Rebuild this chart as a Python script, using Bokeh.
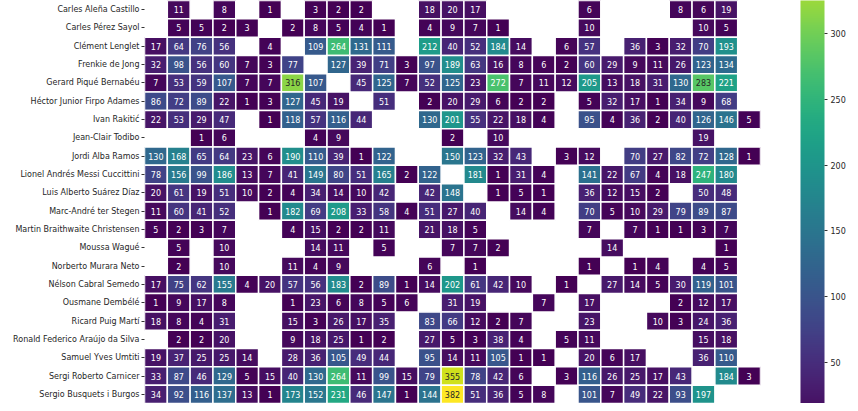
import math
from bokeh.plotting import figure
from bokeh.models import (ColumnDataSource, LinearColorMapper, ColorBar, FactorRange,
                          Range1d, FixedTicker)
from bokeh.palettes import Viridis256
from bokeh.embed import file_html
from bokeh.resources import INLINE
from bokeh.core.properties import value

players = [
    "Carles Aleña Castillo", "Carles Pérez Sayol", "Clément Lenglet", "Frenkie de Jong",
    "Gerard Piqué Bernabéu", "Héctor Junior Firpo Adames", "Ivan Rakitić", "Jean-Clair Todibo",
    "Jordi Alba Ramos", "Lionel Andrés Messi Cuccittini", "Luis Alberto Suárez Díaz",
    "Marc-André ter Stegen", "Martin Braithwaite Christensen", "Moussa Wagué",
    "Norberto Murara Neto", "Nélson Cabral Semedo", "Ousmane Dembélé", "Ricard Puig Martí",
    "Ronald Federico Araújo da Silva", "Samuel Yves Umtiti", "Sergi Roberto Carnicer",
    "Sergio Busquets i Burgos",
]

N = None
# one row per player, one entry per match (27 matches visible)
aleña     = [N,11,N,8,N,1,N,3,2,2,N,N,18,20,17,N,N,N,N,6,N,N,N,8,6,19,N]
perez     = [N,5,5,2,3,N,2,8,5,4,1,N,4,9,7,1,N,N,N,10,N,N,N,N,10,5,N]
lenglet   = [17,64,76,56,N,4,N,109,264,131,111,N,212,40,52,184,14,N,6,57,N,36,3,32,70,193,N]
dejong    = [32,98,56,60,7,3,77,N,127,39,71,3,97,189,63,16,8,6,2,60,29,9,11,26,123,134,N]
pique     = [7,53,59,107,7,7,316,107,N,45,125,7,52,125,23,272,7,11,12,205,13,18,31,130,283,221,N]
firpo     = [86,72,89,22,1,3,127,45,19,N,51,N,2,20,29,6,2,2,N,5,32,17,1,34,9,68,N]
rakitic   = [22,53,29,47,N,1,118,57,116,44,N,N,130,201,55,22,18,4,N,95,4,36,2,40,126,146,5]
todibo    = [N,N,1,6,N,N,N,4,9,N,N,N,N,2,N,10,N,N,N,N,N,N,N,N,19,N,N]
alba      = [130,168,65,64,23,6,190,110,39,1,122,N,N,150,123,32,43,N,3,12,N,70,27,82,72,128,1]
messi     = [78,156,99,186,13,7,41,149,80,51,165,2,122,N,181,1,31,4,N,141,22,67,4,18,247,180,N]
suarez    = [20,61,19,51,10,2,4,34,14,10,42,N,42,148,N,1,5,1,N,36,12,15,2,N,50,48,N]
terstegen = [11,60,41,52,N,1,182,69,208,33,58,4,51,27,40,N,14,4,N,70,5,10,29,79,89,87,N]
braith    = [5,2,3,7,N,N,4,15,2,2,11,N,21,18,5,N,N,N,N,7,N,7,1,1,3,7,N]
wague     = [N,5,N,10,N,N,N,14,11,N,5,N,N,7,7,2,N,N,N,N,14,N,N,N,N,1,N]
neto      = [N,2,N,10,N,N,11,4,9,N,N,N,6,N,1,N,N,N,N,1,N,1,4,N,4,5,N]
semedo    = [17,75,62,155,4,20,57,56,183,2,89,1,14,202,61,42,10,N,1,N,27,14,5,30,119,101,N]
dembele   = [1,9,17,8,N,N,1,23,6,8,5,6,N,31,19,N,N,7,N,17,N,N,N,2,12,17,N]
puig      = [18,8,4,31,N,N,15,3,26,17,35,N,83,66,12,2,7,N,N,23,N,N,10,3,24,36,N]
araujo    = [N,2,2,20,N,N,9,18,25,1,2,N,27,5,3,38,4,N,5,11,N,N,N,N,15,18,N]
umtiti    = [19,37,25,25,14,N,28,36,105,49,44,N,95,14,11,105,1,1,N,20,6,17,N,N,36,110,N]
roberto   = [33,87,46,129,5,15,40,130,264,11,99,15,79,355,78,42,6,N,3,116,26,25,17,43,N,184,3]
busquets  = [34,92,116,137,13,1,173,152,231,46,147,1,144,382,51,36,5,8,N,101,7,49,22,93,197,N,N]

rows = [aleña, perez, lenglet, dejong, pique, firpo, rakitic, todibo, alba, messi, suarez,
        terstegen, braith, wague, neto, semedo, dembele, puig, araujo, umtiti, roberto, busquets]

colorbar_ticks = [50, 100, 150, 200, 250, 300]

# ---------------------------------------------------------------------------
all_vals = [v for r in rows for v in r if v is not None]
vmin, vmax = min(all_vals), max(all_vals)


def lum(hexcol):
    rgb = [int(hexcol[i:i + 2], 16) / 255 for i in (1, 3, 5)]
    lin = [c / 12.92 if c <= 0.03928 else ((c + 0.055) / 1.055) ** 2.4 for c in rgb]
    return 0.2126 * lin[0] + 0.7152 * lin[1] + 0.0722 * lin[2]


def cmap_color(v):
    idx = int((v - vmin) / (vmax - vmin) * 256)
    return Viridis256[max(0, min(255, idx))]


xs, ys, vals, labels, tcols = [], [], [], [], []
for name, r in zip(players, rows):
    for j, v in enumerate(r):
        if v is None:
            continue
        xs.append(j)
        ys.append(name)
        vals.append(v)
        labels.append(str(v))
        tcols.append("#262626" if lum(cmap_color(v)) > 0.408 else "#ffffff")

src = ColumnDataSource(dict(x=xs, y=ys, v=vals, t=labels, tc=tcols))
ncols = len(rows[0])

p = figure(width=848, height=403, output_backend="svg", toolbar_location=None,
           x_range=Range1d(-0.5, ncols - 0.5),
           y_range=FactorRange(factors=list(reversed(players)), range_padding=0),
           min_border_left=144, min_border_right=87, min_border_top=0, min_border_bottom=0,
           x_axis_location=None)
p.outline_line_color = None
p.grid.visible = False
p.background_fill_color = "white"

mapper = LinearColorMapper(palette=Viridis256, low=vmin, high=vmax)
p.rect(x="x", y="y", width=1, height=1, source=src,
       fill_color={"field": "v", "transform": mapper},
       line_color="white", line_width=1.5)
p.text(x="x", y="y", text="t", source=src, text_color="tc",
       text_font=value("DejaVu Sans"), text_font_size="8px",
       text_align="center", text_baseline="middle")

yax = p.yaxis[0]
yax.axis_line_color = None
yax.major_tick_in = 0
yax.major_tick_out = 3
yax.major_tick_line_color = "#333333"
yax.major_label_standoff = 2
yax.major_label_text_font = "DejaVu Sans"
yax.major_label_text_font_size = "8px"
yax.major_label_text_color = "#262626"

# colour bar shows the visible part of the original scale
cb_low, cb_high = 19, 325
i0 = int((cb_low - vmin) / (vmax - vmin) * 256)
i1 = int((cb_high - vmin) / (vmax - vmin) * 256)
cb_mapper = LinearColorMapper(palette=Viridis256[i0:i1 + 1], low=cb_low, high=cb_high)
cb = ColorBar(color_mapper=cb_mapper, ticker=FixedTicker(ticks=colorbar_ticks),
              width=24, height=403, padding=0, margin=0, location=(40, 0),
              major_tick_in=0, major_tick_out=3, major_tick_line_color="#333333",
              label_standoff=3, major_label_text_font="DejaVu Sans",
              major_label_text_font_size="8px", major_label_text_color="#262626",
              bar_line_color=None, border_line_color=None, background_fill_color=None)
p.add_layout(cb, "right")

open("out.html", "w").write(file_html(p, INLINE))
